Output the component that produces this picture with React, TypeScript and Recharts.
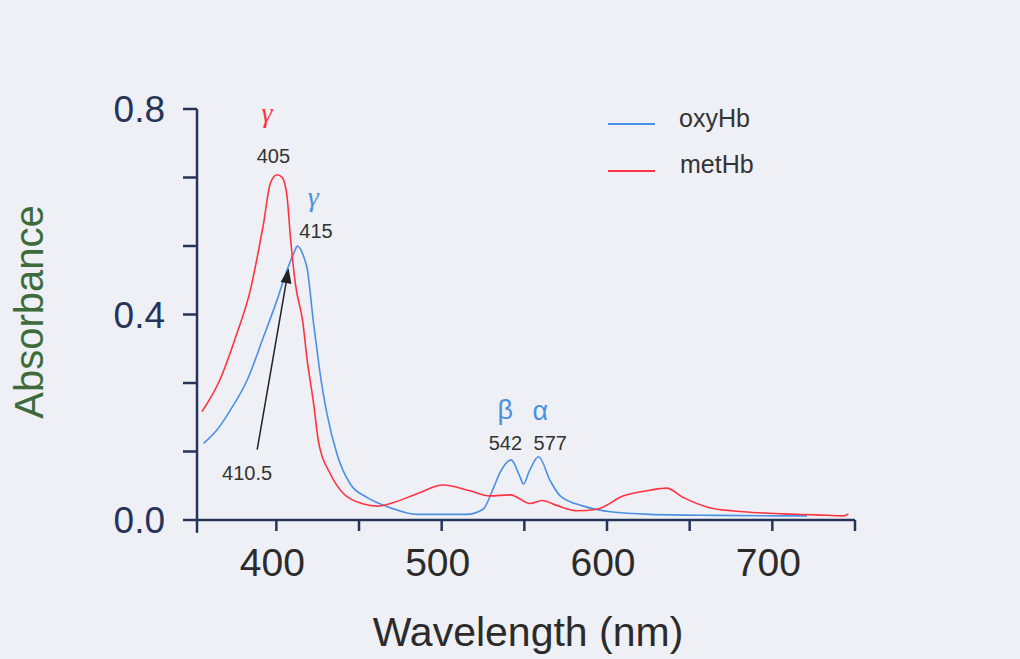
import { LineChart, Line, XAxis, YAxis, ReferenceLine, ReferenceDot } from 'recharts';

// wavelength (nm) / absorbance pairs
const metHbNm = [355, 366, 376, 384.3, 389.3, 392.3, 396.4, 400.4, 403.5, 406.5, 408.5, 411.5, 416, 418.5, 422.6, 425.6, 432.6, 440.7, 452.8, 460.9, 470.9, 485, 501, 517, 529, 541.5, 553.6, 560.6, 570, 581.8, 593.8, 610, 626, 636, 646, 662, 682.5, 706.6, 726.8, 742.9, 746];
const metHbAbs = [0.211, 0.274, 0.362, 0.448, 0.526, 0.578, 0.656, 0.672, 0.667, 0.629, 0.551, 0.46, 0.385, 0.315, 0.225, 0.15, 0.09, 0.051, 0.031, 0.027, 0.034, 0.051, 0.068, 0.057, 0.047, 0.049, 0.032, 0.038, 0.028, 0.018, 0.021, 0.047, 0.058, 0.062, 0.044, 0.024, 0.016, 0.012, 0.01, 0.008, 0.012];

const oxyHbNm = [356, 364, 372.2, 382.3, 392.3, 400.4, 406.5, 410.5, 412.8, 416.5, 418.6, 422.5, 424.6, 426.6, 430.6, 436.7, 444.7, 454.8, 468.9, 485, 515, 525, 531.4, 535.4, 542, 547.5, 549.5, 553, 558.6, 565.7, 571.7, 585.8, 602, 626, 666.5, 706.6, 721];
const oxyHbAbs = [0.149, 0.175, 0.214, 0.272, 0.357, 0.428, 0.487, 0.519, 0.533, 0.513, 0.49, 0.383, 0.331, 0.282, 0.207, 0.128, 0.07, 0.044, 0.024, 0.011, 0.011, 0.021, 0.063, 0.093, 0.117, 0.083, 0.07, 0.095, 0.123, 0.076, 0.047, 0.027, 0.016, 0.011, 0.009, 0.008, 0.008];

const xTicks = [400, 450, 500, 550, 600, 650, 700, 750];
const xLabels = [400, 500, 600, 700];
const yTicks = [0, 0.8 / 6, 1.6 / 6, 0.4, 3.2 / 6, 4 / 6, 0.8];
const yLabels = ['0.0', '0.4', '0.8'];

const BG = '#eef0f5';
const NAVY = '#26345a';
const RED = '#ff3340';
const BLUE = '#4a90e2';
const FONT = '"Liberation Sans", Arial, sans-serif';

const metHb = metHbNm.map((nm, i) => ({ nm, abs: metHbAbs[i] }));
const oxyHb = oxyHbNm.map((nm, i) => ({ nm, abs: oxyHbAbs[i] }));

// text annotations, anchored at their baseline centre
const notes = [
  { x: 394.4, y: 0.775, text: 'γ', color: RED, size: 28, serif: true },
  { x: 398.2, y: 0.695, text: '405', color: '#333', size: 20 },
  { x: 422.4, y: 0.611, text: 'γ', color: BLUE, size: 28, serif: true },
  { x: 424, y: 0.549, text: '415', color: '#333', size: 20 },
  { x: 538.5, y: 0.197, text: 'β', color: BLUE, size: 27 },
  { x: 559.6, y: 0.195, text: 'α', color: BLUE, size: 27 },
  { x: 538.5, y: 0.136, text: '542', color: '#333', size: 20 },
  { x: 565.7, y: 0.136, text: '577', color: '#333', size: 20 },
  { x: 382.3, y: 0.078, text: '410.5', color: '#333', size: 20 },
];

const XTick = ({ x, y, payload }: any) =>
  xLabels.includes(payload.value) ? (
    <text x={x - 4} y={y + 43} textAnchor="middle" fontSize={39} fill="#2b2b2b" fontFamily={FONT}>
      {payload.value}
    </text>
  ) : null;

const YTick = ({ x, y, payload }: any) => {
  const v = Math.round(payload.value * 100) / 100;
  const idx = [0, 0.4, 0.8].indexOf(v);
  if (idx < 0) return null;
  return (
    <text x={x - 16} y={y + 13} textAnchor="end" fontSize={37} fill={NAVY} fontFamily={FONT}>
      {yLabels[idx]}
    </text>
  );
};

const Arrow = ({ x1, y1, x2, y2 }: any) => {
  const ang = Math.atan2(y2 - y1, x2 - x1);
  const len = 15;
  const w = 5.5;
  const bx = x2 - len * Math.cos(ang);
  const by = y2 - len * Math.sin(ang);
  const px = -Math.sin(ang) * w;
  const py = Math.cos(ang) * w;
  return (
    <g>
      <line x1={x1} y1={y1} x2={bx} y2={by} stroke="#222" strokeWidth={1.5} />
      <polygon points={`${x2},${y2} ${bx + px},${by + py} ${bx - px},${by - py}`} fill="#222" />
    </g>
  );
};

export default function App() {
  return (
    <div style={{ position: 'absolute', left: 0, top: 0, width: 1020, height: 659, background: BG }}>
      <LineChart width={1020} height={659} margin={{ top: 109, right: 165, bottom: 109, left: 137 }}>
        <XAxis
          type="number"
          dataKey="nm"
          domain={[352, 750]}
          ticks={xTicks}
          allowDataOverflow
          height={30}
          stroke={NAVY}
          strokeWidth={2.5}
          tickSize={11}
          tick={<XTick />}
        />
        <YAxis
          type="number"
          dataKey="abs"
          domain={[0, 0.8]}
          ticks={yTicks}
          width={60}
          stroke={NAVY}
          strokeWidth={2.5}
          tickSize={14}
          tick={<YTick />}
        />
        <ReferenceLine
          segment={[{ x: 352, y: 0 }, { x: 352, y: -0.025 }]}
          ifOverflow="visible"
          stroke={NAVY}
          strokeWidth={2.5}
        />
        <Line data={oxyHb} dataKey="abs" type="monotone" stroke={BLUE} strokeWidth={1.6} dot={false} isAnimationActive={false} />
        <Line data={metHb} dataKey="abs" type="monotone" stroke={RED} strokeWidth={1.6} dot={false} isAnimationActive={false} />
        <ReferenceLine
          segment={[{ x: 388.4, y: 0.137 }, { x: 407.4, y: 0.49 }]}
          ifOverflow="visible"
          shape={<Arrow />}
        />
        {notes.map((n, i) => (
          <ReferenceDot
            key={i}
            x={n.x}
            y={n.y}
            r={0}
            ifOverflow="visible"
            shape={(p: any) => (
              <text
                x={p.cx}
                y={p.cy}
                textAnchor="middle"
                fontSize={n.size}
                fontStyle={n.serif ? 'italic' : 'normal'}
                fill={n.color}
                fontFamily={n.serif ? '"Liberation Serif", "DejaVu Serif", serif' : FONT}
              >
                {n.text}
              </text>
            )}
          />
        ))}
      </LineChart>
      {/* legend and axis titles */}
      <svg width={1020} height={659} style={{ position: 'absolute', left: 0, top: 0, pointerEvents: 'none' }}>
        <line x1={608} y1={124} x2={655} y2={124} stroke={BLUE} strokeWidth={2} />
        <text x={679} y={127} fontSize={25} fill="#333" fontFamily={FONT}>oxyHb</text>
        <line x1={608} y1={171} x2={655} y2={171} stroke={RED} strokeWidth={2} />
        <text x={680} y={173} fontSize={25} fill="#333" fontFamily={FONT}>metHb</text>
        <text
          x={43}
          y={312}
          transform="rotate(-90 43 312)"
          textAnchor="middle"
          fontSize={40}
          fill="#3d6b3a"
          fontFamily={FONT}
        >
          Absorbance
        </text>
        <text x={528} y={646} textAnchor="middle" fontSize={41} fill="#2b2b2b" fontFamily={FONT}>
          Wavelength (nm)
        </text>
      </svg>
    </div>
  );
}
